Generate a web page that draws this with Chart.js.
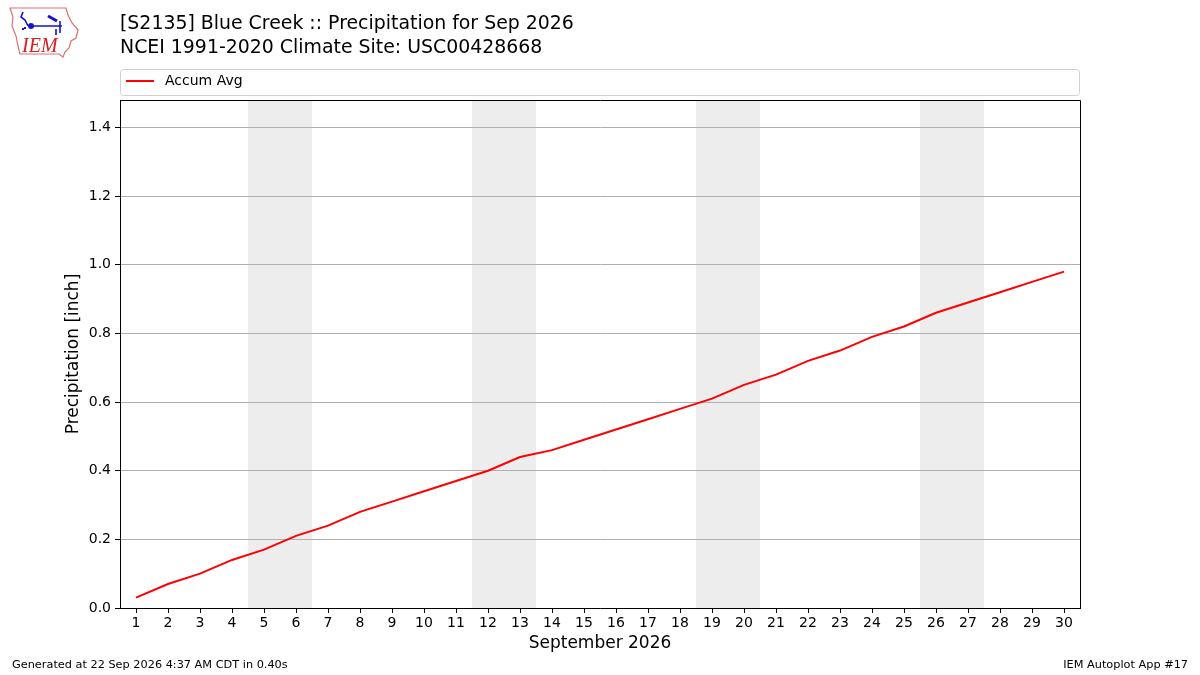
<!DOCTYPE html>
<html>
<head>
<meta charset="utf-8">
<script src="https://cdn.jsdelivr.net/npm/chart.js@4.4.1/dist/chart.umd.min.js"></script>
<style>
html, body { margin: 0; padding: 0; background: #fff; }
#wrap { width: 1200px; height: 675px; }
</style>
</head>
<body>
<div id="wrap"><canvas id="precip" width="1200" height="675"></canvas></div>
<script>
// september 2026, day of month
var days = [1, 2, 3, 4, 5, 6, 7, 8, 9, 10, 11, 12, 13, 14, 15,
            16, 17, 18, 19, 20, 21, 22, 23, 24, 25, 26, 27, 28, 29, 30];
// accumulated climatology precip (inch)
var accumAvg = [0.03, 0.07, 0.10, 0.14, 0.17, 0.21, 0.24, 0.28, 0.31, 0.34,
                0.37, 0.40, 0.44, 0.46, 0.49, 0.52, 0.55, 0.58, 0.61, 0.65,
                0.68, 0.72, 0.75, 0.79, 0.82, 0.86, 0.89, 0.92, 0.95, 0.98];
var yTicks = [0.0, 0.2, 0.4, 0.6, 0.8, 1.0, 1.2, 1.4];
var year = 2026, month = 8; // JS month index, Sep

// saturdays and sundays get a gray band
var weekendDays = days.filter(function (d) {
    var w = new Date(year, month, d).getDay();
    return w === 0 || w === 6;
});

var FONT = 'DejaVu Sans';

function drawLogo(ctx) {
    ctx.save();
    // rough iowa outline
    ctx.strokeStyle = '#e07070';
    ctx.lineWidth = 1.2;
    ctx.beginPath();
    ctx.moveTo(10, 8); ctx.lineTo(66, 8); ctx.lineTo(68, 15); ctx.lineTo(72, 23);
    ctx.lineTo(78, 30); ctx.lineTo(76, 38); ctx.lineTo(71, 41); ctx.lineTo(69, 48);
    ctx.lineTo(65, 52); ctx.lineTo(63, 57); ctx.lineTo(59, 54); ctx.lineTo(20, 54);
    ctx.lineTo(18, 46); ctx.lineTo(16, 36); ctx.lineTo(12, 26); ctx.lineTo(13, 17);
    ctx.closePath();
    ctx.stroke();
    // weather station glyph
    ctx.strokeStyle = '#1515c8';
    ctx.fillStyle = '#1515c8';
    ctx.lineWidth = 1.6;
    ctx.beginPath();
    ctx.moveTo(30, 26); ctx.lineTo(62, 26);
    ctx.moveTo(23, 12); ctx.lineTo(21, 17); ctx.lineTo(25, 20); ctx.lineTo(28, 26);
    ctx.moveTo(60, 21); ctx.lineTo(60, 33);
    ctx.moveTo(56, 29); ctx.lineTo(56, 35);
    ctx.stroke();
    ctx.lineWidth = 3;
    ctx.beginPath();
    ctx.moveTo(48, 16); ctx.lineTo(57, 21);
    ctx.stroke();
    ctx.beginPath(); ctx.arc(31, 26, 3, 0, Math.PI * 2); ctx.fill();
    ctx.fillRect(22, 28, 2, 2);
    ctx.fillRect(24, 27, 2, 2);
    // IEM lettering
    ctx.fillStyle = '#d42020';
    ctx.font = 'italic 20px "Liberation Serif"';
    ctx.textBaseline = 'alphabetic';
    ctx.fillText('IEM', 22, 52);
    ctx.restore();
}

var decor = {
    id: 'decor',
    beforeDraw: function (chart) {
        var ctx = chart.ctx, a = chart.chartArea, x = chart.scales.x;
        ctx.save();
        ctx.fillStyle = '#fff';
        ctx.fillRect(0, 0, chart.width, chart.height);
        ctx.fillStyle = '#ededed';
        weekendDays.forEach(function (d) {
            var x0 = x.getPixelForValue(d - 0.5), x1 = x.getPixelForValue(d + 0.5);
            ctx.fillRect(x0, a.top, x1 - x0, a.bottom - a.top);
        });
        ctx.restore();
    },
    afterDraw: function (chart) {
        var ctx = chart.ctx, a = chart.chartArea;
        ctx.save();
        // frame
        ctx.strokeStyle = '#000';
        ctx.lineWidth = 1;
        ctx.beginPath();
        ctx.moveTo(a.left + 0.5, a.bottom);
        ctx.lineTo(a.left + 0.5, a.top + 0.5);
        ctx.lineTo(a.right + 0.5, a.top + 0.5);
        ctx.lineTo(a.right + 0.5, a.bottom);
        ctx.stroke();

        // titles
        ctx.fillStyle = '#000';
        ctx.textBaseline = 'middle';
        ctx.textAlign = 'left';
        ctx.font = '18.9px "' + FONT + '"';
        ctx.fillText('[S2135] Blue Creek :: Precipitation for Sep 2026', 120, 24);
        ctx.fillText('NCEI 1991-2020 Climate Site: USC00428668', 120, 48);

        // legend box
        ctx.strokeStyle = '#d0d0d0';
        ctx.fillStyle = '#fff';
        ctx.beginPath();
        ctx.roundRect(120.5, 69.5, 959, 26, 3);
        ctx.fill();
        ctx.stroke();
        ctx.strokeStyle = '#ff0000';
        ctx.lineWidth = 2;
        ctx.beginPath();
        ctx.moveTo(126, 81); ctx.lineTo(154, 81);
        ctx.stroke();
        ctx.fillStyle = '#000';
        ctx.font = '14px "' + FONT + '"';
        ctx.fillText('Accum Avg', 165, 81);

        // footer
        ctx.font = '11.3px "' + FONT + '"';
        ctx.fillText('Generated at 22 Sep 2026 4:37 AM CDT in 0.40s', 12, 665);
        ctx.textAlign = 'right';
        ctx.fillText('IEM Autoplot App #17', 1188, 665);
        ctx.restore();

        drawLogo(ctx);
    }
};

new Chart('precip', {
    type: 'line',
    data: {
        datasets: [{
            label: 'Accum Avg',
            data: days.map(function (d, i) { return { x: d, y: accumAvg[i] }; }),
            borderColor: '#ff0000',
            borderWidth: 2,
            pointRadius: 0,
            tension: 0,
            fill: false
        }]
    },
    options: {
        responsive: false,
        animation: false,
        devicePixelRatio: 1,
        layout: { padding: { left: 0, right: 120, top: 100, bottom: 0 } },
        plugins: {
            legend: { display: false },
            title: { display: false },
            tooltip: { enabled: false }
        },
        scales: {
            x: {
                type: 'linear',
                min: 0.5,
                max: 30.5,
                afterBuildTicks: function (s) { s.ticks = days.map(function (d) { return { value: d }; }); },
                afterFit: function (s) { s.height = 67; },
                ticks: {
                    autoSkip: false,
                    maxRotation: 0,
                    padding: 2,
                    color: '#000',
                    font: { family: FONT, size: 14 },
                    callback: function (v) { return String(v); }
                },
                grid: { drawOnChartArea: false, drawTicks: true, tickLength: 5, tickColor: '#000' },
                border: { color: '#000', width: 1 },
                title: {
                    display: true,
                    text: 'September 2026',
                    color: '#000',
                    font: { family: FONT, size: 17 },
                    padding: { top: 0, bottom: 21 }
                }
            },
            y: {
                min: 0,
                max: 1.48,
                afterBuildTicks: function (s) { s.ticks = yTicks.map(function (v) { return { value: v }; }); },
                afterFit: function (s) { s.width = 120; },
                ticks: {
                    padding: 4,
                    color: '#000',
                    font: { family: FONT, size: 14 },
                    callback: function (v) { return Number(v).toFixed(1); }
                },
                grid: { color: '#b0b0b0', lineWidth: 1, drawTicks: true, tickLength: 5, tickColor: '#000' },
                border: { color: '#000', width: 1 },
                title: {
                    display: true,
                    text: 'Precipitation [inch]',
                    color: '#000',
                    font: { family: FONT, size: 17 },
                    padding: { top: 63, bottom: 0 }
                }
            }
        }
    },
    plugins: [decor]
});
</script>
</body>
</html>
